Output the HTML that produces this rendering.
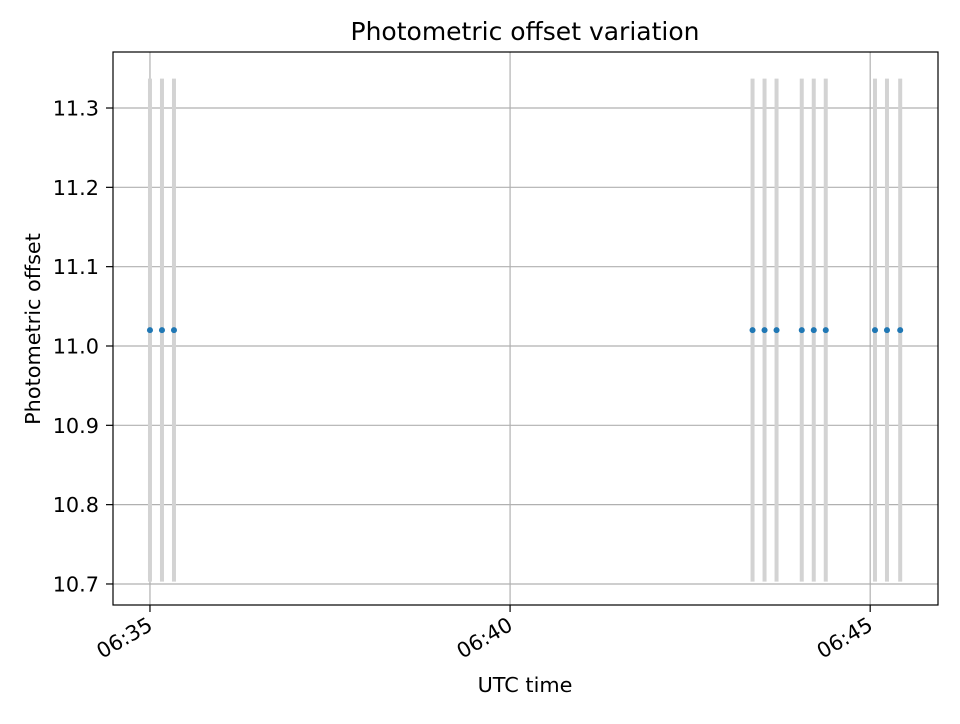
<!DOCTYPE html>
<html><head><meta charset="utf-8"><style>
body{margin:0;background:#fff;font-family:"DejaVu Sans","Liberation Sans",sans-serif;}
</style></head><body>
<svg id="chart" width="960" height="720" xmlns="http://www.w3.org/2000/svg" font-family="DejaVu Sans, Liberation Sans, sans-serif">
<rect width="960" height="720" fill="#fff"/>
<text x="525" y="40" text-anchor="middle" font-size="25">Photometric offset variation</text>
<g id="grid"></g><g id="bars"></g><g id="pts"></g><g id="ticks"></g>
<rect x="113" y="52" width="825" height="553" fill="none" stroke="#000" stroke-width="1.2"/>
<text x="525" y="692" text-anchor="middle" font-size="20.8">UTC time</text>
<text transform="translate(40,329) rotate(-90)" text-anchor="middle" font-size="20.8">Photometric offset</text>
</svg>
<script>
// times in seconds after 06:35:00
const times=[0,10,20,502,512,522,543,553,563,604,614,625];
const values=[11.02,11.02,11.02,11.02,11.02,11.02,11.02,11.02,11.02,11.02,11.02,11.02];
const errors=[0.317,0.317,0.317,0.317,0.317,0.317,0.317,0.317,0.317,0.317,0.317,0.317];
const yTicks=[10.7,10.8,10.9,11.0,11.1,11.2,11.3];
const xTicks=[0,300,600];
const xTickLabels=["06:35","06:40","06:45"];
const L=113,R=938,T=52,B=605;
const xMin=-30.8,xMax=656.5,yMin=10.6735,yMax=11.3706;
const sx=v=>L+(v-xMin)/(xMax-xMin)*(R-L);
const sy=v=>B-(v-yMin)/(yMax-yMin)*(B-T);
const NS="http://www.w3.org/2000/svg";
function mk(p,tag,a){const e=document.createElementNS(NS,tag);for(const k in a)e.setAttribute(k,a[k]);document.getElementById(p).appendChild(e);return e;}
yTicks.forEach(v=>{
 const y=sy(v);
 const g=mk('grid','line',{x1:L,x2:R,y1:y,y2:y,stroke:'#b0b0b0','stroke-width':1.2});
 
 
 mk('ticks','line',{x1:L-7,x2:L,y1:y,y2:y,stroke:'#000','stroke-width':1.2});
 const t=mk('ticks','text',{x:L-14,y:y+7.5,'text-anchor':'end','font-size':20.8});
 t.textContent=v.toFixed(1);
 
 
});
xTicks.forEach((v,i)=>{
 const x=sx(v);
 const g=mk('grid','line',{x1:x,x2:x,y1:T,y2:B,stroke:'#b0b0b0','stroke-width':1.2});
 
 
 mk('ticks','line',{x1:x,x2:x,y1:B,y2:B+7,stroke:'#000','stroke-width':1.2});
 const t=mk('ticks','text',{x:x+4,y:B+24,'text-anchor':'end','font-size':20.8,transform:`rotate(-30 ${x+4} ${B+24})`});
 t.textContent=xTickLabels[i];
 
 
});
times.forEach((v,i)=>{
 const x=sx(v);
 const b=mk('bars','line',{x1:x,x2:x,y1:sy(values[i]-errors[i]),y2:sy(values[i]+errors[i]),stroke:'#d3d3d3','stroke-width':4});
 
 
 const c=mk('pts','circle',{cx:x,cy:sy(values[i]),r:3,fill:'#1f77b4'});
 
 
});
</script>
</body></html>
